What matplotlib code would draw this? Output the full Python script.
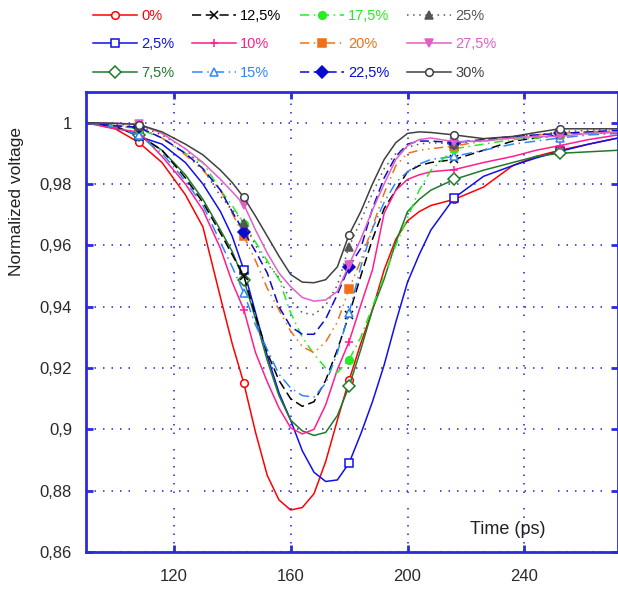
import matplotlib
matplotlib.use("Agg")
import matplotlib.pyplot as plt
from matplotlib.ticker import FuncFormatter

plt.rcParams['font.family'] = ['Liberation Sans', 'DejaVu Sans']

# time axis (ps), markers every 36 ps starting at 108
time_ps = [90, 100, 108, 116, 124, 130, 136, 140, 144, 148, 152, 156, 160, 164, 168, 172,
           176, 180, 184, 188, 192, 196, 200, 204, 208, 216, 226, 236, 244, 252, 262, 272]
marker_times = [108, 144, 180, 216, 252]

v_00 = [1.0, 0.998, 0.9936, 0.987, 0.9765, 0.966, 0.943, 0.928, 0.915, 0.899, 0.885, 0.877,
        0.8737, 0.8745, 0.879, 0.8895, 0.903, 0.916, 0.928, 0.939, 0.952, 0.962, 0.968, 0.971,
        0.973, 0.975, 0.979, 0.986, 0.989, 0.991, 0.993, 0.995]
v_025 = [1.0, 0.999, 0.9955, 0.993, 0.987, 0.980, 0.971, 0.963, 0.952, 0.938, 0.924, 0.912,
         0.903, 0.893, 0.886, 0.883, 0.8835, 0.889, 0.8985, 0.909, 0.921, 0.935, 0.948, 0.957,
         0.965, 0.9755, 0.9825, 0.986, 0.9885, 0.9906, 0.993, 0.995]
v_075 = [1.0, 0.9985, 0.996, 0.991, 0.983, 0.975, 0.965, 0.958, 0.9488, 0.936, 0.9225, 0.911,
         0.903, 0.8995, 0.898, 0.899, 0.9045, 0.914, 0.926, 0.939, 0.949, 0.961, 0.971, 0.975,
         0.978, 0.9815, 0.9845, 0.987, 0.989, 0.990, 0.9905, 0.991]
v_10 = [1.0, 0.998, 0.997, 0.989, 0.980, 0.9715, 0.959, 0.948, 0.939, 0.925, 0.9155, 0.907,
        0.9005, 0.8985, 0.900, 0.908, 0.9195, 0.9286, 0.9405, 0.952, 0.9705, 0.978, 0.9815, 0.983,
        0.984, 0.9847, 0.987, 0.989, 0.991, 0.9925, 0.9945, 0.996]
v_125 = [1.0, 0.9985, 0.996, 0.991, 0.982, 0.974, 0.964, 0.957, 0.950, 0.937, 0.925, 0.916,
         0.910, 0.9075, 0.909, 0.916, 0.926, 0.9374, 0.950, 0.962, 0.972, 0.978, 0.984, 0.986,
         0.987, 0.988, 0.991, 0.994, 0.995, 0.996, 0.9965, 0.997]
v_15 = [1.0, 0.9985, 0.996, 0.990, 0.981, 0.973, 0.961, 0.953, 0.9445, 0.934, 0.926, 0.918,
        0.9135, 0.911, 0.9105, 0.915, 0.925, 0.938, 0.953, 0.9655, 0.974, 0.9805, 0.984, 0.9865,
        0.988, 0.989, 0.991, 0.993, 0.994, 0.995, 0.996, 0.9965]
v_175 = [1.0, 0.999, 0.998, 0.995, 0.990, 0.987, 0.978, 0.973, 0.967, 0.961, 0.955, 0.949,
         0.938, 0.930, 0.9245, 0.920, 0.9185, 0.9227, 0.930, 0.940, 0.950, 0.960, 0.969, 0.978,
         0.9845, 0.9915, 0.993, 0.9945, 0.995, 0.996, 0.9965, 0.997]
v_20 = [1.0, 0.999, 0.9985, 0.995, 0.9895, 0.9845, 0.978, 0.9705, 0.963, 0.955, 0.946, 0.939,
        0.932, 0.927, 0.925, 0.9285, 0.935, 0.9458, 0.955, 0.966, 0.977, 0.986, 0.990, 0.991,
        0.9915, 0.9924, 0.994, 0.995, 0.996, 0.9965, 0.997, 0.9975]
v_225 = [1.0, 0.999, 0.9985, 0.995, 0.990, 0.985, 0.978, 0.971, 0.9645, 0.958, 0.951, 0.940,
         0.9335, 0.931, 0.931, 0.936, 0.944, 0.953, 0.959, 0.972, 0.982, 0.989, 0.993, 0.994,
         0.994, 0.9935, 0.9945, 0.9955, 0.996, 0.9965, 0.997, 0.9975]
v_25 = [1.0, 0.9995, 0.999, 0.996, 0.9915, 0.985, 0.976, 0.9717, 0.9674, 0.960, 0.954, 0.9495,
        0.942, 0.938, 0.9374, 0.9405, 0.947, 0.9596, 0.968, 0.977, 0.985, 0.990, 0.992, 0.993,
        0.9935, 0.993, 0.9945, 0.9955, 0.996, 0.997, 0.9975, 0.998]
v_275 = [1.0, 0.9998, 0.9995, 0.9965, 0.9915, 0.987, 0.9815, 0.9775, 0.9733, 0.965, 0.9575, 0.951,
         0.9465, 0.943, 0.9418, 0.9422, 0.945, 0.9537, 0.962, 0.9715, 0.980, 0.988, 0.9925, 0.9945,
         0.995, 0.9938, 0.994, 0.995, 0.9955, 0.9955, 0.9965, 0.997]
v_30 = [1.0, 0.9998, 0.9994, 0.997, 0.993, 0.9895, 0.9845, 0.9805, 0.9756, 0.9695, 0.963, 0.9565,
        0.9505, 0.948, 0.9478, 0.9488, 0.953, 0.9635, 0.971, 0.980, 0.988, 0.9935, 0.9965, 0.997,
        0.9968, 0.996, 0.9948, 0.9955, 0.9968, 0.998, 0.998, 0.998]

# label, values, colour, linestyle, marker, filled marker
curves = [
    ("0%", v_00, "#ff0000", "-", "o", False),
    ("2,5%", v_025, "#1010ee", "-", "s", False),
    ("7,5%", v_075, "#1f7a2a", "-", "D", False),
    ("12,5%", v_125, "#000000", (0, (6, 3)), "x", False),
    ("10%", v_10, "#ff1e8c", "-", "+", False),
    ("15%", v_15, "#2f86ff", (0, (7, 3, 1, 3)), "^", False),
    ("17,5%", v_175, "#22ee22", (0, (6, 3, 1, 3)), "o", True),
    ("20%", v_20, "#f07018", (0, (6, 3, 1, 3, 1, 3)), "s", True),
    ("22,5%", v_225, "#0a0ad0", (0, (6, 3)), "D", True),
    ("25%", v_25, "#555555", (0, (1, 3)), "^", True),
    ("27,5%", v_275, "#e060c8", "-", "v", True),
    ("30%", v_30, "#404040", "-", "o", False),
]

mark_idx = [time_ps.index(t) for t in marker_times]

fig = plt.figure(figsize=(6.18, 5.91), dpi=100)
ax = fig.add_axes([86 / 618, 1 - 552 / 591, 532 / 618, 460 / 591])

for label, vals, color, ls, mk, filled in curves:
    ax.plot(time_ps, vals, color=color, linestyle=ls, linewidth=1.1,
            marker=mk, markevery=mark_idx, markersize=6 if mk in "sD" else 5.5,
            markerfacecolor=color if filled else "white",
            markeredgecolor=color, markeredgewidth=1.1, label=label)

ax.set_xlim(90, 272)
ax.set_ylim(0.86, 1.01)
ax.set_xticks([120, 160, 200, 240])
ax.set_yticks([0.86, 0.88, 0.9, 0.92, 0.94, 0.96, 0.98, 1.0])
ax.yaxis.set_major_formatter(FuncFormatter(lambda v, _: f"{v:g}".replace(".", ",")))

axis_blue = "#2a2ae0"
for sp in ax.spines.values():
    sp.set_color(axis_blue)
    sp.set_linewidth(2)
ax.tick_params(axis="both", direction="in", length=5, width=2, color=axis_blue,
               labelsize=12, labelcolor="#2a2a2a", top=True, right=True)
ax.tick_params(axis="x", pad=12)
ax.tick_params(axis="y", pad=10)
ax.grid(True, color="#3030e8", linewidth=1.2,
        dashes=(0.9, 4.2, 0.9, 4.2, 0.9, 4.2, 0.9, 4.2, 0.9, 4.2, 0.9, 9))
ax.set_axisbelow(True)

fig.text(508 / 618, 1 - 530 / 591, "Time (ps)", ha="center", va="center",
         fontsize=13, color="#222222")
fig.text(17 / 618, 1 - 201 / 591, "Normalized voltage", rotation=90, ha="center",
         va="center", fontsize=12.5, color="#222222")

fig.legend(loc="upper left", bbox_to_anchor=(84 / 618, 1.0), ncol=4, frameon=False,
           fontsize=10.5, handlelength=3.0, handletextpad=0.3, columnspacing=1.25,
           labelspacing=1.0, labelcolor="linecolor", borderaxespad=0.2)

fig.savefig("out.png", dpi=100)
